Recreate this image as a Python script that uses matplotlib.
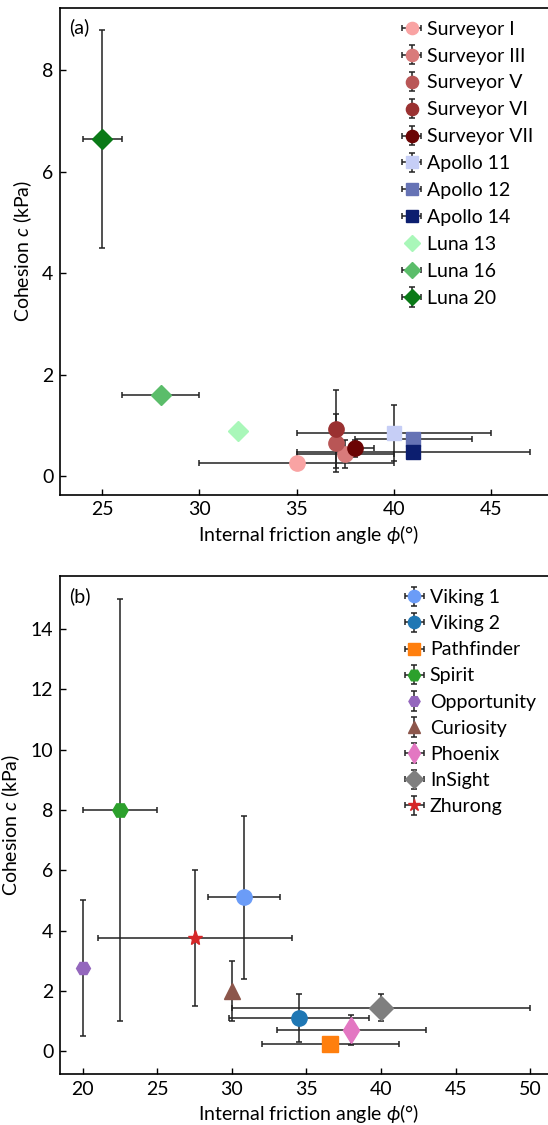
import numpy as np
import matplotlib
matplotlib.use("Agg")
import matplotlib.pyplot as plt

plt.rcParams['font.family'] = ['Lato', 'DejaVu Sans']
plt.rcParams['mathtext.fontset'] = 'custom'
plt.rcParams['mathtext.rm'] = 'Lato'
plt.rcParams['mathtext.it'] = 'Lato:italic'

# (a) Moon missions
moon_names = ["Surveyor I", "Surveyor III", "Surveyor V", "Surveyor VI", "Surveyor VII",
              "Apollo 11", "Apollo 12", "Apollo 14", "Luna 13", "Luna 16", "Luna 20"]
moon_phi = [35, 37.5, 37, 37, 38, 40, 41, 41, 32, 28, 25]
moon_phi_err = [5, 2.5, 0, 0, 1, 5, 3, 6, 0, 2, 1]
moon_c = [0.27, 0.44, 0.65, 0.93, 0.55, 0.86, 0.73, 0.48, 0.9, 1.6, 6.65]
moon_c_err = [0, 0.28, 0.57, 0.77, 0.17, 0.55, 0, 0, 0, 0, 2.15]
moon_colors = ["#f9a3a3", "#d97b7b", "#b95656", "#9a3131", "#6b0404",
               "#c6cef6", "#6673b5", "#0c1e6f", "#a9f7b9", "#5bbd6a", "#0a7a17"]
moon_markers = ["o"] * 5 + ["s"] * 3 + ["D"] * 3

# (b) Mars missions
mars_names = ["Viking 1", "Viking 2", "Pathfinder", "Spirit", "Opportunity",
              "Curiosity", "Phoenix", "InSight", "Zhurong"]
mars_phi = [30.8, 34.5, 36.6, 22.5, 20, 30, 38, 40, 27.5]
mars_phi_err = [2.4, 4.7, 4.6, 2.5, 0, 0, 5, 10, 6.5]
mars_c = [5.1, 1.1, 0.24, 8, 2.75, 2, 0.72, 1.45, 3.75]
mars_c_err = [2.7, 0.8, 0, 7, 2.25, 1, 0.5, 0.45, 2.25]
mars_colors = ["#6b9cf7", "#1f77b4", "#ff7f0e", "#2ca02c", "#9467bd",
               "#8c564b", "#e377c2", "#7f7f7f", "#d62728"]
mars_markers = ["o", "o", "s", "H", "H", "^", "d", "D", "*"]
mars_sizes = [11, 11, 11, 11, 10, 11, 13, 12, 11]


def draw(ax, names, phi, phi_err, c, c_err, colors, markers, sizes):
    for i in range(len(names)):
        xe = phi_err[i] if phi_err[i] > 0 else None
        ye = c_err[i] if c_err[i] > 0 else None
        ax.errorbar(phi[i], c[i], xerr=xe, yerr=ye, fmt=markers[i], color=colors[i],
                    ms=sizes[i], mec=colors[i], ecolor="#222222", elinewidth=1.1,
                    capsize=2, capthick=1.1, label=names[i])


fig = plt.figure(figsize=(5.48, 11.25), dpi=100)
ax1 = fig.add_axes([0.1102, 0.5604, 0.905, 0.4329])
ax2 = fig.add_axes([0.1102, 0.0453, 0.905, 0.4427])

draw(ax1, moon_names, moon_phi, moon_phi_err, moon_c, moon_c_err, moon_colors,
     moon_markers, [11] * 5 + [10] * 3 + [10] * 3)
draw(ax2, mars_names, mars_phi, mars_phi_err, mars_c, mars_c_err, mars_colors,
     mars_markers, mars_sizes)

ax1.set_xlim(22.85, 48.35)
ax1.set_ylim(-0.36, 9.24)
ax1.set_xticks([25, 30, 35, 40, 45])
ax1.set_yticks([0, 2, 4, 6, 8])
ax2.set_xlim(18.5, 51.75)
ax2.set_ylim(-0.75, 15.75)
ax2.set_xticks([20, 25, 30, 35, 40, 45, 50])
ax2.set_yticks(np.arange(0, 15, 2))

for ax, tag, ls, bx in [(ax1, "(a)", 0.51, 0.985), (ax2, "(b)", 0.47, 0.99)]:
    ax.tick_params(direction="in", labelsize=14, length=4, width=1, pad=5)
    for s in ax.spines.values():
        s.set_linewidth(1.2)
    ax.set_xlabel(r"Internal friction angle $\it{\phi}$(°)", fontsize=14, labelpad=3)
    ax.set_ylabel(r"Cohesion $\it{c}$ (kPa)", fontsize=14, labelpad=6)
    ax.text(0.017, 0.978, tag, transform=ax.transAxes, fontsize=14, va="top")
    ax.legend(loc="upper right", bbox_to_anchor=(bx, 1.005), frameon=False, fontsize=14,
              handlelength=0.9, handletextpad=0.35, labelspacing=ls, borderpad=0.3,
              markerscale=0.8)

fig.savefig("out.png", dpi=100)
